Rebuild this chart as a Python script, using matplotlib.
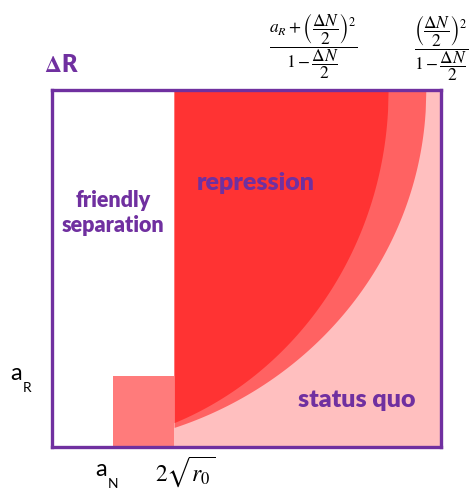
import numpy as np
import matplotlib.pyplot as plt
from matplotlib.patches import Rectangle

plt.rcParams['font.family'] = ['Lato', 'DejaVu Sans']
plt.rcParams['mathtext.fontset'] = 'stix'

# region boundaries on the (dN, dR) plane, both axes scaled to [0, 1]
a_N = 0.157            # friendly separation threshold on dN
a_R = 0.199            # threshold on dR
two_sqrt_r0 = 0.314    # 2*sqrt(r0): left edge of repression / status quo
repression_reach = 0.864   # (a_R + (dN/2)^2) / (1 - dN/2) at the top edge
ring_reach = 0.961         # (dN/2)^2 / (1 - dN/2) at the top edge

region_labels = ['friendly\nseparation', 'repression', 'status quo']
region_pos = [(0.157, 0.655), (0.524, 0.740), (0.784, 0.131)]
region_size = [15.5, 18, 18]

purple = '#7030A0'
dark_red = '#FF3333'
mid_red = '#FF6262'
light_pink = '#FFBFBF'
square_pink = '#FF7B7B'


def ellipse_floor(x, reach):
    # lower edge of a quarter ellipse centred on the top-left corner
    return 1 - np.sqrt(np.clip(1 - (x / reach) ** 2, 0, None))


fig = plt.figure(figsize=(4.70, 4.97), dpi=100)
ax = fig.add_axes([0.1106, 0.1006, 0.8277, 0.7183])
ax.set_xlim(0, 1)
ax.set_ylim(0, 1)

# status quo background
ax.add_patch(Rectangle((two_sqrt_r0, 0), 1 - two_sqrt_r0, 1,
                       facecolor=light_pink, edgecolor='none', zorder=1))

x = np.linspace(two_sqrt_r0, ring_reach, 400)
ax.fill_between(x, ellipse_floor(x, ring_reach), 1, color=mid_red, lw=0, zorder=2)
x = np.linspace(two_sqrt_r0, repression_reach, 400)
ax.fill_between(x, ellipse_floor(x, repression_reach), 1, color=dark_red, lw=0, zorder=3)

ax.add_patch(Rectangle((a_N, 0), two_sqrt_r0 - a_N, a_R,
                       facecolor=square_pink, edgecolor='none', zorder=4))

for label, (px, py), fs in zip(region_labels, region_pos, region_size):
    ax.text(px, py, label, color=purple, fontsize=fs, fontweight='heavy',
            ha='center', va='center', linespacing=1.2, zorder=5)

ax.set_xticks([])
ax.set_yticks([])
for side in ax.spines.values():
    side.set_color(purple)
    side.set_linewidth(2.4)
    side.set_zorder(6)

# axis annotations
ax.text(-0.02, 1.07, r'$\mathbf{\Delta}$R', color=purple, fontsize=17,
        fontweight='heavy', ha='left', va='center', transform=ax.transAxes)
fig.text(10 / 470, 1 - 374 / 497, 'a', fontsize=17, ha='left', va='center')
fig.text(23 / 470, 1 - 388 / 497, 'R', fontsize=10, ha='left', va='center')
fig.text(95 / 470, 1 - 470 / 497, 'a', fontsize=17, ha='left', va='center')
fig.text(108 / 470, 1 - 484 / 497, 'N', fontsize=10, ha='left', va='center')
fig.text(185 / 470, 1 - 472 / 497, r'$2\sqrt{r_0}$', fontsize=17,
         ha='center', va='center')

fig.text(313 / 470, 1 - 46 / 497,
         r'$\dfrac{a_R + \left(\dfrac{\Delta N}{2}\right)^2}{1 - \dfrac{\Delta N}{2}}$',
         fontsize=12.5, ha='center', va='center')
fig.text(441 / 470, 1 - 48 / 497,
         r'$\dfrac{\left(\dfrac{\Delta N}{2}\right)^2}{1 - \dfrac{\Delta N}{2}}$',
         fontsize=12.5, ha='center', va='center')

fig.savefig('out.png', dpi=100)
